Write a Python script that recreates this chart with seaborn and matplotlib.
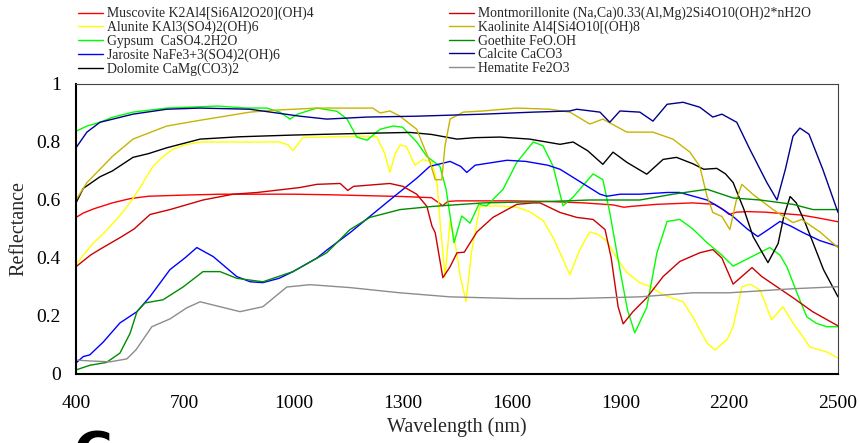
import matplotlib
matplotlib.use("Agg")
import matplotlib.pyplot as plt
import seaborn as sns
import pandas as pd
from matplotlib.ticker import MultipleLocator

# ---------------- data ----------------
names = [
    "Muscovite K2Al4[Si6Al2O20](OH)4",
    "Alunite KAl3(SO4)2(OH)6",
    "Gypsum  CaSO4.2H2O",
    "Jarosite NaFe3+3(SO4)2(OH)6",
    "Dolomite CaMg(CO3)2",
    "Montmorillonite (Na,Ca)0.33(Al,Mg)2Si4O10(OH)2*nH2O",
    "Kaolinite Al4[Si4O10[(OH)8",
    "Goethite FeO.OH",
    "Calcite CaCO3",
    "Hematite Fe2O3",
]
colors = ["#FF0000", "#FFFF00", "#00FF00", "#0000FF", "#000000",
          "#CC0000", "#C8B400", "#008C00", "#00008C", "#8C8C8C"]

muscovite_wl = [400, 420, 450, 500, 550, 600, 700, 800, 900, 1000, 1100, 1200, 1300, 1380, 1400, 1410, 1425, 1450,
                1600, 1700, 1800, 1880, 1910, 1930, 2000, 2100, 2160, 2185, 2200, 2220, 2250, 2300, 2400, 2450, 2500]
muscovite_r = [.54, .555, .57, .59, .605, .613, .617, .62, .62, .62, .618, .615, .612, .608, .59, .58, .595, .597,
               .597, .595, .59, .583, .575, .578, .585, .59, .585, .565, .55, .558, .56, .558, .548, .537, .525]

alunite_wl = [400, 420, 447, 480, 502, 530, 554, 580, 612, 640, 667, 700, 742, 800, 900, 960, 985, 998, 1010, 1025,
              1100, 1200, 1229, 1251, 1265, 1280, 1293, 1310, 1334, 1356, 1381, 1395, 1405, 1417, 1431, 1445, 1460,
              1475, 1490, 1513, 1560, 1615, 1650, 1687, 1715, 1734, 1761, 1789, 1816, 1840, 1863, 1890, 1918, 1954,
              1985, 2018, 2073, 2100, 2139, 2161, 2194, 2211, 2235, 2257, 2285, 2317, 2348, 2376, 2423, 2469, 2500]
alunite_r = [.377, .41, .45, .49, .52, .56, .60, .65, .716, .75, .775, .79, .80, .80, .80, .80, .79, .77, .79, .815,
             .818, .82, .818, .76, .695, .76, .79, .785, .72, .74, .73, .66, .50, .336, .53, .45, .33,
             .25, .42, .578, .58, .575, .56, .53, .47, .418, .342, .43, .49, .48, .458, .40, .35, .315,
             .30, .273, .249, .197, .107, .083, .118, .163, .30, .31, .29, .187, .232, .176, .093, .076, .055]

gypsum_wl = [400, 430, 466, 500, 557, 650, 789, 870, 926, 962, 990, 1010, 1064, 1119, 1147, 1174, 1202, 1238, 1274,
             1300, 1339, 1367, 1403, 1420, 1442, 1463, 1486, 1510, 1532, 1577, 1615, 1660, 1687, 1715, 1742, 1770,
             1825, 1852, 1871, 1899, 1920, 1940, 1973, 2001, 2029, 2064, 2100, 2139, 2180, 2211, 2263, 2312, 2340,
             2359, 2390, 2414, 2440, 2469, 2500]
gypsum_r = [.837, .855, .868, .885, .903, .917, .924, .917, .917, .903, .879, .896, .917, .906, .879, .817, .806, .844,
            .855, .851, .80, .75, .716, .637, .453, .545, .52, .585, .58, .637, .73, .80, .787, .716, .58, .61,
            .69, .67, .557, .36, .22, .142, .23, .418, .526, .533, .50, .453, .41, .372, .405, .436, .41,
            .37, .27, .197, .175, .163, .163]

jarosite_wl = [400, 420, 438, 475, 521, 568, 604, 659, 700, 733, 778, 843, 880, 915, 960, 998, 1064, 1094, 1155,
               1265, 1339, 1375, 1431, 1460, 1477, 1500, 1588, 1640, 1700, 1734, 1770, 1844, 1863, 1900, 1954, 2030,
               2064, 2139, 2180, 2211, 2250, 2279, 2310, 2340, 2370, 2403, 2450, 2500]
jarosite_r = [.038, .06, .066, .11, .176, .215, .267, .36, .40, .436, .405, .336, .318, .315, .33, .353, .40, .43, .487,
              .60, .675, .716, .733, .716, .695, .72, .737, .733, .72, .706, .678, .62, .613, .62, .62, .626,
              .626, .60, .57, .543, .50, .474, .50, .526, .51, .488, .46, .44]

dolomite_wl = [400, 420, 466, 500, 557, 600, 650, 742, 850, 1000, 1200, 1320, 1380, 1450, 1500, 1568, 1650, 1734,
               1770, 1810, 1852, 1880, 1918, 1973, 2018, 2055, 2100, 2130, 2166, 2190, 2211, 2240, 2266, 2307, 2335,
               2350, 2368, 2385, 2410, 2431, 2460, 2500]
dolomite_r = [.59, .64, .68, .70, .747, .76, .78, .81, .818, .824, .83, .833, .826, .81, .815, .817, .81, .792,
              .80, .77, .723, .765, .73, .689, .74, .747, .725, .706, .709, .69, .66, .57, .474, .384, .45,
              .54, .612, .59, .52, .453, .36, .266]

montmor_wl = [400, 440, 466, 521, 560, 604, 659, 750, 833, 900, 1017, 1064, 1128, 1149, 1165, 1265, 1301, 1339, 1367,
              1381, 1390, 1411, 1431, 1450, 1470, 1505, 1549, 1615, 1660, 1679, 1734, 1780, 1825, 1858, 1875, 1894,
              1908, 1935, 1973, 2018, 2064, 2119, 2155, 2180, 2211, 2263, 2290, 2376, 2430, 2500]
montmor_r = [.37, .41, .43, .47, .50, .55, .567, .60, .62, .626, .643, .654, .657, .633, .647, .657, .647, .62, .578,
             .51, .487, .332, .37, .418, .42, .49, .54, .585, .59, .59, .557, .54, .533, .498, .40, .232,
             .173, .215, .263, .336, .388, .418, .429, .40, .31, .367, .336, .263, .215, .166]

kaolinite_wl = [400, 430, 466, 500, 557, 650, 742, 797, 879, 950, 1064, 1218, 1238, 1265, 1293, 1320, 1339, 1353,
                1375, 1390, 1408, 1417, 1431, 1467, 1522, 1615, 1706, 1761, 1816, 1852, 1918, 1990, 2045, 2092, 2119,
                2139, 2155, 2180, 2202, 2220, 2235, 2265, 2321, 2376, 2400, 2450, 2500]
kaolinite_r = [.60, .66, .706, .75, .81, .855, .875, .886, .903, .91, .917, .917, .90, .907, .889, .862, .844, .80,
               .733, .67, .67, .787, .879, .903, .907, .917, .913, .903, .862, .879, .834, .834, .81, .765, .716,
               .613, .557, .543, .498, .60, .654, .62, .567, .522, .533, .49, .436]

goethite_wl = [400, 438, 484, 521, 549, 568, 590, 640, 695, 750, 797, 843, 915, 998, 1091, 1155, 1210, 1293, 1384,
               1522, 1706, 1816, 1954, 2045, 2139, 2211, 2285, 2376, 2431, 2500]
goethite_r = [.014, .03, .04, .072, .14, .215, .245, .256, .30, .353, .353, .33, .318, .353, .418, .498, .54, .567, .578,
              .59, .595, .60, .60, .62, .637, .607, .60, .585, .567, .567]

calcite_wl = [400, 430, 466, 557, 650, 742, 879, 1017, 1091, 1202, 1339, 1522, 1660, 1761, 1780, 1844, 1871, 1899,
              1954, 1990, 2029, 2073, 2119, 2155, 2180, 2221, 2257, 2304, 2332, 2355, 2376, 2395, 2420, 2458, 2500]
calcite_r = [.78, .834, .868, .896, .913, .917, .913, .889, .879, .886, .889, .896, .903, .907, .913, .903, .868, .907,
             .903, .872, .93, .937, .92, .886, .896, .868, .775, .66, .60, .706, .82, .848, .827, .706, .557]

hematite_wl = [400, 438, 494, 540, 565, 609, 659, 705, 742, 797, 852, 915, 981, 1045, 1155, 1293, 1431, 1615, 1761,
               1954, 2100, 2200, 2376, 2500]
hematite_r = [.048, .045, .042, .052, .083, .163, .19, .228, .249, .232, .215, .232, .30, .308, .298, .28, .266, .26,
              .26, .266, .28, .28, .294, .301]

series = [
    (muscovite_wl, muscovite_r), (alunite_wl, alunite_r), (gypsum_wl, gypsum_r),
    (jarosite_wl, jarosite_r), (dolomite_wl, dolomite_r), (montmor_wl, montmor_r),
    (kaolinite_wl, kaolinite_r), (goethite_wl, goethite_r), (calcite_wl, calcite_r),
    (hematite_wl, hematite_r),
]
x_ticks = [400, 700, 1000, 1300, 1600, 1900, 2200, 2500]
y_ticks = [0, 0.2, 0.4, 0.6, 0.8, 1.0]
y_ticklabels = ["0", "0.2", "0.4", "0.6", "0.8", "1"]

# ---------------- plot ----------------
sns.set_style("white")
plt.rcParams["font.family"] = ["Liberation Serif", "DejaVu Serif"]

rows = []
for n, (wl, r) in zip(names, series):
    for a, b in zip(wl, r):
        rows.append({"mineral": n, "wl": a, "R": b})
df = pd.DataFrame(rows)

fig = plt.figure(figsize=(8.6, 4.43), dpi=100)
ax = fig.add_axes([76 / 860, 1 - 374 / 443, (838 - 76) / 860, (374 - 84) / 443])

sns.lineplot(data=df, x="wl", y="R", hue="mineral", hue_order=names,
             palette=dict(zip(names, colors)), sort=False, estimator=None,
             linewidth=1.0, ax=ax, legend=False)

ax.set_xlim(400, 2500)
ax.set_ylim(0, 1)
ax.set_xticks(x_ticks)
ax.set_yticks(y_ticks)
ax.set_yticklabels(y_ticklabels)
ax.yaxis.set_minor_locator(MultipleLocator(0.1))
ax.tick_params(axis="both", which="both", direction="in", colors="black", labelsize=14)
ax.tick_params(axis="x", which="major", length=5, width=1, pad=15)
ax.tick_params(axis="y", which="major", length=5, width=1, pad=11)
ax.tick_params(axis="y", which="minor", length=4, width=1)
ax.tick_params(top=False, right=False)
for s in ["left", "bottom"]:
    ax.spines[s].set_linewidth(1.5)
    ax.spines[s].set_color("black")
for s in ["top", "right"]:
    ax.spines[s].set_linewidth(0.8)
    ax.spines[s].set_color("#444444")
ax.set_xlabel("Wavelength (nm)", fontsize=14.5, labelpad=4)
ax.set_ylabel("Reflectance", fontsize=14.5, labelpad=6)

# legends (two columns above the plot)
handles = [plt.Line2D([], [], color=c, lw=1.0) for c in colors]
leg_kw = dict(loc="upper left", frameon=False, fontsize=9.9, borderpad=0, borderaxespad=0,
              handlelength=1.8, handletextpad=0.3, labelspacing=0.03)
fig.legend(handles[:5], names[:5], bbox_to_anchor=(78 / 860, 1 - 7 / 443), **leg_kw)
fig.legend(handles[5:], names[5:], bbox_to_anchor=(449 / 860, 1 - 7 / 443), **leg_kw)

# partial large panel letter at the bottom-left corner
fig.text(73 / 860, 1 - 429 / 443, "C", fontsize=38, fontweight="bold",
         family="DejaVu Sans", va="top", ha="left", color="black")

fig.savefig("out.png", dpi=100)
